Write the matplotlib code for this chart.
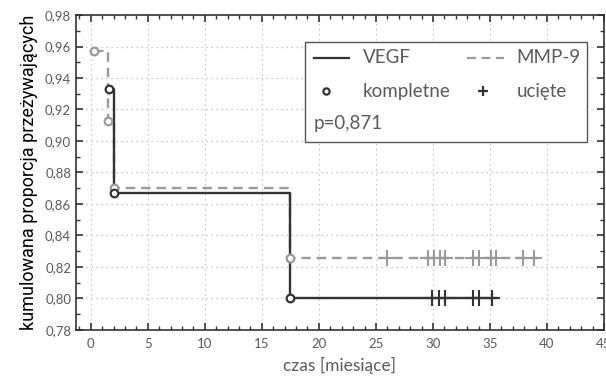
import numpy as np, matplotlib
matplotlib.use("Agg")
import matplotlib.pyplot as plt
from matplotlib.ticker import MultipleLocator, FuncFormatter
from matplotlib.lines import Line2D
from matplotlib.patches import Rectangle

plt.rcParams.update({"font.family": ["Lato", "DejaVu Sans"]})
DARK, GREY, TXT = "#333333", "#9a9a9a", "#5a5a5a"

# VEGF
vegf_t = [1.6, 2.0, 17.5]
vegf_s = [0.933, 0.867, 0.800]
vegf_cens = [29.9, 30.5, 31.1, 33.5, 34.0, 35.2]
# MMP-9
mmp_t = [0.3, 1.5, 2.0, 17.5]
mmp_s = [0.957, 0.913, 0.870, 0.826]
mmp_cens = [26.0, 29.6, 30.1, 30.6, 31.1, 33.5, 34.0, 35.1, 35.5, 37.9, 38.9]


def km_path(t, s, cens):
    xs, ys = [t[0]], [s[0]]
    for i in range(1, len(t)):
        xs += [t[i], t[i]]
        ys += [s[i - 1], s[i]]
    xs.append(max(cens) + 0.35)
    ys.append(s[-1])
    return xs, ys


fig = plt.figure(figsize=(6.06, 3.81), dpi=100)
ax = fig.add_axes([0.1254, 0.134, 0.8713, 0.8266])

for t, s, cens, col, ls in [(mmp_t, mmp_s, mmp_cens, GREY, (0, (4, 2.5))),
                            (vegf_t, vegf_s, vegf_cens, DARK, "-")]:
    xs, ys = km_path(t, s, cens)
    ax.plot(xs, ys, color=col, lw=1.7, ls=ls, zorder=3)
    ax.plot(t, s, "o", ms=5.5, mfc="white", mec=col, mew=1.6, zorder=4)
    ax.plot(cens, [s[-1]] * len(cens), "+", ms=11, mec=col, mew=1.5, zorder=4)

ax.set_xlim(-1.3, 45)
ax.set_ylim(0.78, 0.98)
ax.xaxis.set_major_locator(MultipleLocator(5))
ax.xaxis.set_minor_locator(MultipleLocator(1))
ax.yaxis.set_major_locator(MultipleLocator(0.02))
ax.yaxis.set_minor_locator(MultipleLocator(0.01))
ax.yaxis.set_major_formatter(FuncFormatter(lambda v, p: f"{v:.2f}".replace(".", ",")))
ax.tick_params(which="both", direction="in", top=True, right=True, colors=DARK,
               labelcolor=TXT, labelsize=9.5)
ax.tick_params(which="major", length=5, width=1.2)
ax.tick_params(which="minor", length=3, width=1)
ax.tick_params(axis="x", pad=6)
ax.grid(True, which="major", ls=(0, (1, 3)), color="#bbbbbb", lw=0.9)
for sp in ax.spines.values():
    sp.set_color(DARK)
    sp.set_linewidth(1.2)

ax.set_xlabel("czas [miesiące]", fontsize=12.5, color=TXT, labelpad=5)
ax.set_ylabel("kumulowana proporcja przeżywających", fontsize=13, color="black",
              family=["Roboto", "DejaVu Sans"], labelpad=5)

# legend box
ax.add_patch(Rectangle((0.433, 0.597), 0.535, 0.318, transform=ax.transAxes,
                       fc="white", ec="#555555", lw=1, zorder=5))
tx = dict(transform=ax.transAxes, fontsize=13.5, color=TXT, va="center", zorder=6)
ax.add_line(Line2D([0.451, 0.517], [0.864, 0.864], transform=ax.transAxes, color=DARK, lw=1.6, zorder=6))
ax.text(0.543, 0.864, "VEGF", **tx)
ax.add_line(Line2D([0.740, 0.810], [0.864, 0.864], transform=ax.transAxes, color=GREY, lw=1.6,
                   ls=(0, (4, 2.5)), zorder=6))
ax.text(0.834, 0.864, "MMP-9", **tx)
ax.plot([0.473], [0.758], "o", ms=4.5, mfc="white", mec=DARK, mew=1.6, transform=ax.transAxes, zorder=6)
ax.text(0.543, 0.758, "kompletne", **tx)
ax.plot([0.770], [0.758], "+", ms=6.5, mec=DARK, mew=1.6, transform=ax.transAxes, zorder=6)
ax.text(0.834, 0.758, "ucięte", **tx)
ax.text(0.451, 0.655, "p=0,871", **tx)

fig.savefig("out.png", dpi=100)
